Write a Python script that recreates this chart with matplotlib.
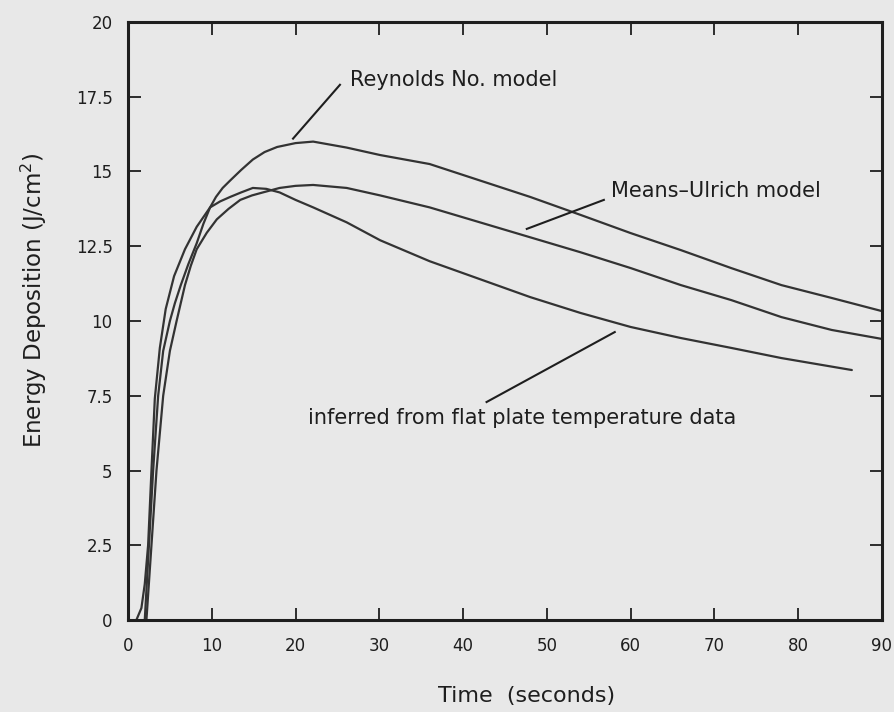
import matplotlib
matplotlib.use("Agg")
import matplotlib.pyplot as plt

# ---- data ----
reynolds_t = [2.0, 2.5, 3.0, 3.6, 4.2, 5.0, 5.6, 6.3, 7.2, 8.2, 9.0, 9.8, 10.5, 11.3, 12.2,
              13.5, 14.9, 16.3, 17.8, 20.0, 22.1, 26.1, 30.1, 36.0, 42.0, 48.0, 54.0, 60.0,
              66.0, 72.0, 78.0, 84.0, 90.0]
reynolds_e = [0.0, 2.5, 5.0, 7.5, 9.0, 10.0, 10.6, 11.2, 11.9, 12.6, 13.25, 13.8, 14.15, 14.45, 14.7,
              15.05, 15.4, 15.65, 15.82, 15.95, 16.0, 15.8, 15.55, 15.25, 14.7, 14.15, 13.55, 12.94,
              12.37, 11.77, 11.2, 10.77, 10.33]

means_t = [2.2, 2.8, 3.4, 4.2, 5.0, 5.8, 6.8, 7.5, 8.2, 9.4, 10.6, 12.0, 13.4, 14.8, 16.1,
           18.1, 20.0, 22.1, 26.1, 30.1, 36.0, 42.0, 48.0, 54.0, 60.0, 66.0, 72.0, 78.0,
           84.0, 90.0]
means_e = [0.0, 2.5, 5.0, 7.5, 9.0, 10.0, 11.2, 11.85, 12.4, 12.95, 13.4, 13.75, 14.05, 14.2, 14.3,
           14.45, 14.52, 14.55, 14.45, 14.2, 13.8, 13.3, 12.8, 12.3, 11.77, 11.2, 10.7, 10.13,
           9.7, 9.4]

inferred_t = [1.0, 1.6, 2.0, 2.4, 2.8, 3.2, 3.8, 4.5, 5.5, 6.8, 8.2, 9.8, 11.0, 12.2, 13.5,
              14.9, 16.5, 18.1, 20.0, 22.1, 26.1, 30.1, 36.0, 42.0, 48.0, 54.0, 60.0, 66.0,
              72.0, 78.0, 86.4]
inferred_e = [0.0, 0.4, 1.2, 2.5, 5.0, 7.4, 9.1, 10.4, 11.5, 12.4, 13.15, 13.8, 14.0, 14.15, 14.3,
              14.45, 14.42, 14.3, 14.05, 13.8, 13.3, 12.7, 12.0, 11.4, 10.8, 10.27, 9.8, 9.43,
              9.1, 8.76, 8.36]

x_ticks = [0, 10, 20, 30, 40, 50, 60, 70, 80, 90]
x_tick_labels = ["0", "10", "20", "30", "40", "50", "60", "70", "80", "90"]
y_ticks = [0, 2.5, 5, 7.5, 10, 12.5, 15, 17.5, 20]
y_tick_labels = ["0", "2.5", "5", "7.5", "10", "12.5", "15", "17.5", "20"]

bg = "#e8e8e8"
ink = "#1e1e1e"

fig = plt.figure(figsize=(8.94, 7.12), dpi=100, facecolor=bg)
ax = fig.add_axes([128/894, 1-620/712, (882-128)/894, (620-22)/712], facecolor=bg)

for t, e in [(reynolds_t, reynolds_e), (means_t, means_e), (inferred_t, inferred_e)]:
    ax.plot(t, e, color="#333333", lw=1.6, solid_joinstyle="round", solid_capstyle="round")

ax.set_xlim(0, 90)
ax.set_ylim(0, 20)
ax.set_xticks(x_ticks)
ax.set_xticklabels(x_tick_labels)
ax.set_yticks(y_ticks)
ax.set_yticklabels(y_tick_labels)
ax.tick_params(direction="in", length=9, width=1.3, color=ink, labelsize=12,
               labelcolor=ink, top=True, right=True)
ax.tick_params(axis="x", pad=12)
ax.tick_params(axis="y", pad=11)
for s in ax.spines.values():
    s.set_linewidth(2.2)
    s.set_color(ink)

# annotations
ax.plot([19.7, 25.3], [16.1, 17.9], color=ink, lw=1.5)
ax.text(26.5, 18.06, "Reynolds No. model", fontsize=15, va="center", ha="left", color=ink)

ax.plot([47.6, 56.8], [13.08, 14.05], color=ink, lw=1.5)
ax.text(57.7, 14.35, "Means\u2013Ulrich model", fontsize=15, va="center", ha="left", color=ink)

ax.plot([42.8, 58.1], [7.29, 9.63], color=ink, lw=1.5)
ax.text(21.5, 6.76, "inferred from flat plate temperature data", fontsize=15,
        va="center", ha="left", color=ink)

fig.text(34/894, 1-300/712, "Energy Deposition (J/cm$^2$)", rotation=90, fontsize=16.5,
         ha="center", va="center", color=ink)
fig.text(527/894, 1-696/712, "Time  (seconds)", fontsize=16, ha="center", va="center", color=ink)

fig.savefig("out.png", dpi=100, facecolor=bg)
